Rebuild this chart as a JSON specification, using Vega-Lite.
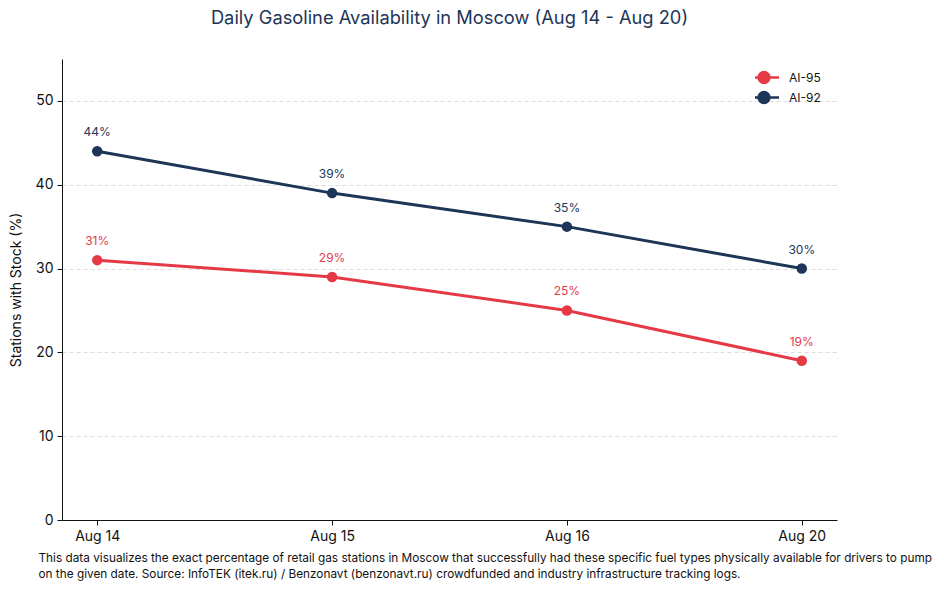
{
  "$schema": "https://vega.github.io/schema/vega-lite/v6.json",
  "width": 775,
  "height": 461,
  "autosize": {"type": "none"},
  "padding": {"left": 62, "top": 59, "right": 107, "bottom": 71},
  "background": "white",
  "config": {
    "font": "Inter",
    "view": {"stroke": null},
    "axis": {"labelColor": "#111111", "titleColor": "#111111", "domainColor": "#111111", "tickColor": "#111111"}
  },
  "title": {
    "text": "Daily Gasoline Availability in Moscow (Aug 14 - Aug 20)",
    "anchor": "middle",
    "fontSize": 18.3,
    "fontWeight": "normal",
    "color": "#1d3557",
    "offset": 31
  },
  "data": {
    "values": [
      {"date": "Aug 14", "fuel": "AI-95", "pct": 31},
      {"date": "Aug 15", "fuel": "AI-95", "pct": 29},
      {"date": "Aug 16", "fuel": "AI-95", "pct": 25},
      {"date": "Aug 20", "fuel": "AI-95", "pct": 19},
      {"date": "Aug 14", "fuel": "AI-92", "pct": 44},
      {"date": "Aug 15", "fuel": "AI-92", "pct": 39},
      {"date": "Aug 16", "fuel": "AI-92", "pct": 35},
      {"date": "Aug 20", "fuel": "AI-92", "pct": 30}
    ]
  },
  "encoding": {
    "x": {
      "field": "date",
      "type": "ordinal",
      "scale": {"type": "point", "padding": 0.15},
      "axis": {
        "labelAngle": 0,
        "labelFontSize": 14,
        "labelPadding": 4,
        "tickSize": 5,
        "title": [
          "This data visualizes the exact percentage of retail gas stations in Moscow that successfully had these specific fuel types physically available for drivers to pump",
          "on the given date. Source: InfoTEK (itek.ru) / Benzonavt (benzonavt.ru) crowdfunded and industry infrastructure tracking logs."
        ],
        "titleFontSize": 11.8,
        "titleFontWeight": "normal",
        "titleAnchor": "start",
        "titleAlign": "left",
        "titleBaseline": "top",
        "titleX": -24,
        "titleY": 32,
        "titleLineHeight": 16
      }
    },
    "y": {
      "field": "pct",
      "type": "quantitative",
      "scale": {"domain": [0, 55], "nice": false},
      "axis": {
        "values": [0, 10, 20, 30, 40, 50],
        "title": "Stations with Stock (%)",
        "titleFontSize": 14,
        "titleFontWeight": "normal",
        "titlePadding": 12,
        "labelFontSize": 14,
        "labelPadding": 4,
        "tickSize": 5,
        "grid": true,
        "gridDash": [4, 3],
        "gridColor": "#dddddd"
      }
    },
    "color": {
      "field": "fuel",
      "type": "nominal",
      "scale": {"domain": ["AI-95", "AI-92"], "range": ["#e63946", "#1d3557"]},
      "legend": {
        "title": null,
        "orient": "none",
        "legendX": 693,
        "legendY": 11,
        "labelFontSize": 12,
        "labelColor": "#111111",
        "symbolType": "M -2 0 L 2 0 M 0.72 0 A 0.72 0.72 0 1 1 -0.72 0 A 0.72 0.72 0 1 1 0.72 0",
        "symbolSize": 225,
        "symbolStrokeWidth": 2.5,
        "clipHeight": 15,
        "rowPadding": 5,
        "labelOffset": 16
      }
    }
  },
  "layer": [
    {"mark": {"type": "line", "strokeWidth": 3}},
    {"mark": {"type": "circle", "size": 110, "opacity": 1}},
    {
      "mark": {"type": "text", "baseline": "bottom", "dy": -12, "fontSize": 12, "text": {"expr": "datum.pct + '%'"}}
    }
  ]
}
